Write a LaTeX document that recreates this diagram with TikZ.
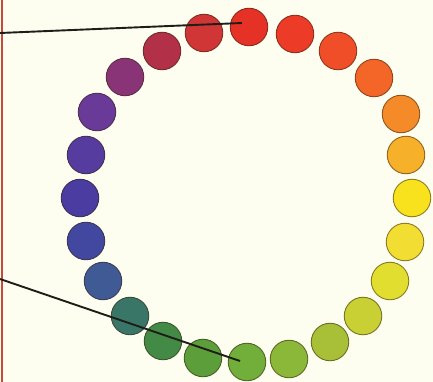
\documentclass[tikz,border=0pt]{standalone}
\begin{document}
\begin{tikzpicture}[x=1pt,y=-1pt,
  dot/.style={circle, minimum size=37.5pt, inner sep=0pt, line width=0.9pt},
  pointer/.style={line width=1.9pt, draw={rgb,255:red,30;green,30;blue,25}}]
\definecolor{paper}{HTML}{FDFDF0}
\definecolor{edge}{HTML}{C8483A}
\fill[paper] (0,0) rectangle (433,382);
\useasboundingbox (0,0) rectangle (433,382);
\draw[edge, line width=2pt] (1.5,0) -- (1.5,382);
\foreach \i/\c/\px/\py in {1/E63226/249/27,2/EC3C28/295/34,3/F04E28/338/51,4/F36628/374/78,
                   5/F48A28/401/114,6/F7B02A/406/155,7/F8E21E/412/198,8/F2DE32/405/242,
                   9/E2DE30/390/281,10/C8D034/363/316,11/A8C038/330/342,12/8CB83A/289/359,
                   13/72AE3A/247/362,14/5C9E3A/203/358,15/428A46/163/341,16/3A7668/130/316,
                   17/405A96/103/281,18/4248A0/86/241,19/4A3CA0/80/198,20/563C9E/86/155,
                   21/6A3A98/97/112,22/8A3478/125/77,23/B23048/162/51,24/D03636/204/33} {
  \definecolor{tmp}{HTML}{\c}
  \node[dot, fill=tmp, draw=tmp!55!black!85!brown] (c\i) at (\px,\py) {};
}
\coordinate (s1) at (0,33);
\coordinate (e1) at (242,23);
\coordinate (s2) at (0,279);
\coordinate (e2) at (240,361);
\draw[pointer] (s1) -- (e1);
\draw[pointer] (s2) -- (e2);
\end{tikzpicture}
\end{document}
